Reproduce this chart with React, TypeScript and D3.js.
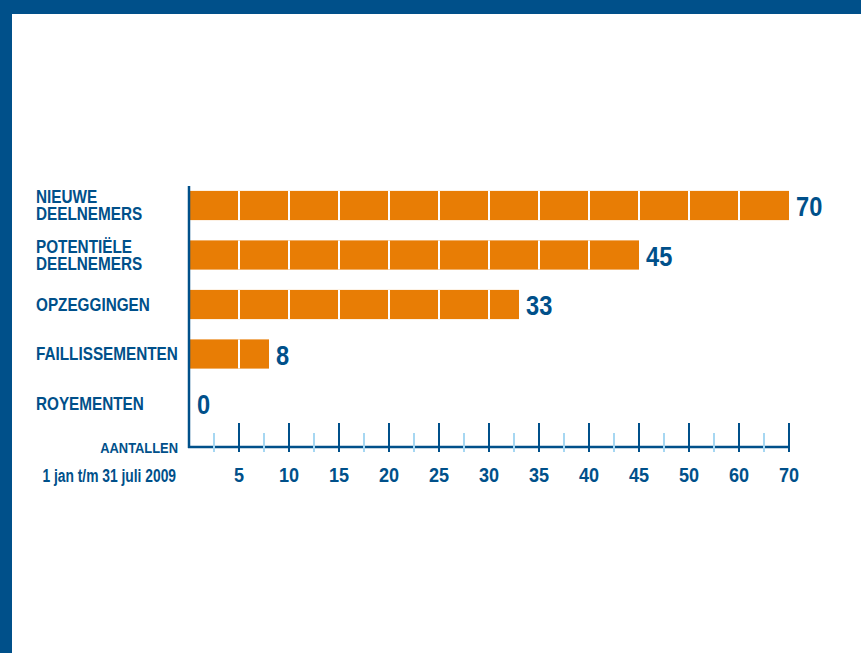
import React from "react";
import * as d3 from "d3";

const categories = [
  ["NIEUWE", "DEELNEMERS"],
  ["POTENTIËLE", "DEELNEMERS"],
  ["OPZEGGINGEN"],
  ["FAILLISSEMENTEN"],
  ["ROYEMENTEN"],
];
const values = [70, 45, 33, 8, 0];
const tickValues = [5, 10, 15, 20, 25, 30, 35, 40, 45, 50, 60, 70];
const axisTitle = "AANTALLEN";
const axisSubtitle = "1 jan t/m 31 juli 2009";

const BLUE = "#00508a";
const ORANGE = "#e87d05";
const LIGHT = "#a6d7f2";
const FONT = "'Liberation Sans', Arial, sans-serif";

function CText({ x, y, sx = 0.85, size, anchor = "start", children }: any) {
  return (
    <text
      transform={`translate(${x},${y}) scale(${sx},1)`}
      dy="0.36em"
      textAnchor={anchor}
      fontFamily={FONT}
      fontWeight="bold"
      fontSize={size}
      fill={BLUE}
    >
      {children}
    </text>
  );
}

export default function App() {
  const W = 861, H = 653;
  const x0 = 189, x1 = 789;
  const domain = [0, ...tickValues];
  const x = d3
    .scaleLinear()
    .domain(domain)
    .range(domain.map((_, i) => x0 + (i * (x1 - x0)) / tickValues.length));
  const y = d3
    .scaleBand()
    .domain(categories.map((_, i) => String(i)))
    .range([181, 428])
    .paddingInner(0.41)
    .paddingOuter(0.2);
  const minor = domain.slice(0, -1).map((d, i) => (d + domain[i + 1]) / 2);
  const axisY = 447;

  return (
    <svg width={W} height={H} style={{ position: "absolute", left: 0, top: 0, background: "#fff" }}>
      <rect x={0} y={0} width={W} height={14} fill={BLUE} />
      <rect x={0} y={0} width={12} height={H} fill={BLUE} />

      {categories.map((lines, i) => {
        const top = y(String(i))!;
        const cy = top + y.bandwidth() / 2;
        const v = values[i];
        const end = x(v);
        const lh = 17;
        const startY = cy - ((lines.length - 1) * lh) / 2;
        return (
          <g key={i}>
            <text
              transform={`translate(36,${startY}) scale(0.85,1)`}
              fontFamily={FONT}
              fontWeight="bold"
              fontSize={18}
              fill={BLUE}
            >
              {lines.map((l, j) => (
                <tspan key={j} x={0} y={j * lh} dy="0.36em">
                  {l}
                </tspan>
              ))}
            </text>
            {v > 0 && <rect x={x0} y={top} width={end - x0} height={y.bandwidth()} fill={ORANGE} />}
            {tickValues
              .filter((t) => x(t) < end - 1)
              .map((t) => (
                <line key={t} x1={x(t)} x2={x(t)} y1={top} y2={top + y.bandwidth()} stroke="#fff" strokeWidth={2} />
              ))}
            <CText x={end + (v > 0 ? 7 : 8)} y={cy + 1} size={27.5} sx={0.86}>
              {v}
            </CText>
          </g>
        );
      })}

      <line x1={x0} x2={x0} y1={186} y2={axisY + 1} stroke={BLUE} strokeWidth={2.5} />
      <line x1={x0 - 1} x2={x(70) + 1} y1={axisY} y2={axisY} stroke={BLUE} strokeWidth={2.5} />
      {minor.map((m) => (
        <line key={m} x1={x(m)} x2={x(m)} y1={433} y2={452} stroke={LIGHT} strokeWidth={2} />
      ))}
      {tickValues.map((t) => (
        <g key={t}>
          <line x1={x(t)} x2={x(t)} y1={423} y2={452} stroke={BLUE} strokeWidth={2} />
          <CText x={x(t)} y={475} size={20.5} sx={0.88} anchor="middle">
            {t}
          </CText>
        </g>
      ))}
      <CText x={178} y={447.5} size={15} sx={0.86} anchor="end">
        {axisTitle}
      </CText>
      <CText x={176} y={475.5} size={17.5} sx={0.79} anchor="end">
        {axisSubtitle}
      </CText>
    </svg>
  );
}
